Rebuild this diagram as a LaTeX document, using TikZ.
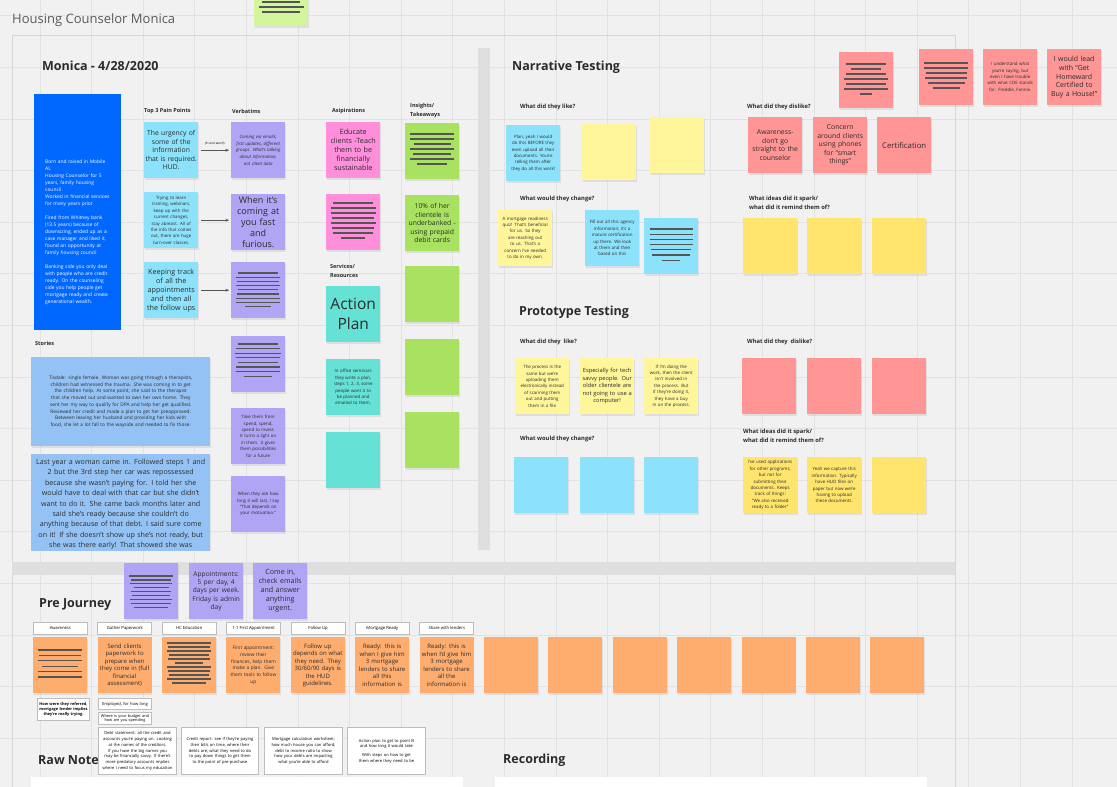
\documentclass[tikz,border=0pt]{standalone}
\usepackage{fontspec}
\setmainfont{Open Sans}
\usetikzlibrary{arrows.meta, positioning, calc, shadows}
\definecolor{boardcolor}{HTML}{F1F1F1}
\definecolor{gridcolor}{HTML}{E2E2E2}
\definecolor{framecolor}{HTML}{D6D6D6}
\definecolor{barcolor}{HTML}{DFDFDF}
\definecolor{inkcolor}{HTML}{2B2B2B}
\definecolor{titlecolor}{HTML}{5A5A5A}
\definecolor{scribcolor}{HTML}{555555}
\definecolor{biocolor}{HTML}{0067FF}
\definecolor{paincolor}{HTML}{8CE2FB}
\definecolor{verbcolor}{HTML}{B0A4F4}
\definecolor{aspirecolor}{HTML}{FF8EDB}
\definecolor{servicecolor}{HTML}{66E1D5}
\definecolor{insightcolor}{HTML}{A8E260}
\definecolor{limecolor}{HTML}{D3F59B}
\definecolor{storycolor}{HTML}{94C2F4}
\definecolor{palecolor}{HTML}{FFF59A}
\definecolor{goldcolor}{HTML}{FFE46D}
\definecolor{coralcolor}{HTML}{FF9595}
\definecolor{tangcolor}{HTML}{FFAD6E}
\definecolor{stagegray}{HTML}{BDBDBD}
\definecolor{arrowgray}{HTML}{555555}
\hyphenpenalty=10000
\exhyphenpenalty=10000
\tikzset{
  sticky/.style={anchor=north west, minimum width=54pt, minimum height=56pt,
    text width=53pt, inner sep=0pt, align=center, text=inkcolor,
    font=\fontsize{6.8}{8.5}\selectfont,
    drop shadow={opacity=0.16, shadow xshift=0.8pt, shadow yshift=-1.3pt}},
  tinynote/.style={text width=46pt, font=\fontsize{4.4}{6.4}\selectfont},
  colhead/.style={anchor=west, inner sep=0pt, align=left, text=inkcolor,
    font=\bfseries\fontsize{5.5}{8.5}\selectfont},
  askhead/.style={colhead, font=\bfseries\fontsize{5.8}{9}\selectfont},
  sechead/.style={anchor=west, inner sep=0pt, text=inkcolor,
    font=\bfseries\fontsize{12.5}{14}\selectfont},
  stagebox/.style={anchor=north west, draw=stagegray, fill=white, line width=0.8pt,
    minimum width=54pt, minimum height=12pt, inner sep=0pt,
    font=\fontsize{4.2}{5}\selectfont},
  notebox/.style={anchor=north west, draw=stagegray, fill=white, line width=1pt,
    inner sep=1pt, align=center, font=\fontsize{4.1}{5.7}\selectfont},
  scribline/.style={draw=scribcolor, line width=1.3pt},
  flowarrow/.style={-{Stealth[length=3.5pt,width=3pt]}, draw=arrowgray,
    line width=0.7pt, shorten <=3pt, shorten >=2pt},
  gridline/.style={draw=gridcolor, line width=0.8pt}
}
% placeholder lines on a sticky: node, first offset, spacing, widths
\newcommand{\scribble}[4]{%
  \foreach \w [count=\k] in {#4}
    \draw[scribline] ($(#1.north)+(-\w/2,#2+\k*#3-#3)$) -- ++(\w,0);}
\begin{document}
\begin{tikzpicture}[x=1pt, y=-1pt]
  \useasboundingbox (0,0) rectangle (1117,787);
  \clip (0,0) rectangle (1117,787);
  \fill[boardcolor] (0,0) rectangle (1117,787);
  \foreach \gx in {40,91.6,...,1117} \draw[gridline] (\gx,0) -- (\gx,787);
  \foreach \gy in {15.8,67.4,...,787} \draw[gridline] (0,\gy) -- (1117,\gy);
  % frame and dividers
  \draw[framecolor, line width=1pt] (12,800) -- (12,35) -- (955,35) -- (955,800);
  \fill[barcolor] (478,48) rectangle (490,550);
  \fill[barcolor] (12,562) rectangle (955,575);

  \node[sticky, fill=limecolor] (topnote) at (254,-30) {};
  \scribble{topnote}{32}{5}{38,45,38}
  \node[anchor=west, inner sep=0pt, text=titlecolor, font=\fontsize{13}{15}\selectfont]
    (boardtitle) at (12,20) {Housing Counselor Monica};
  \node[sechead] (monicahead) at (42,66) {Monica - 4/28/2020};

  % persona
  \node[anchor=north west, fill=biocolor, minimum width=87pt, minimum height=236pt,
        inner sep=0pt] (bio) at (34,94) {};
  \node[anchor=north west, text width=70pt, inner sep=0pt, align=left, text=white,
        font=\fontsize{4.9}{7}\selectfont] (biotext) at (45,160)
    {Born and raised in Mobile\\ AL\\ Housing Counselor for 5\\ years, family housing\\ council\\
     Worked in financial services\\ for many years prior\\[7pt]
     Fired from Whitney bank\\ (13.5 years) because of\\ downsizing, ended up as a\\
     case manager and liked it,\\ found an opportunity at\\ family housing council\\[7pt]
     Banking side you only deal\\ with people who are credit\\ ready. On the counseling\\
     side you help people get\\ mortgage ready and create\\ generational wealth.};

  % column heads
  \node[colhead] (painhead) at (144,111) {Top 3 Pain Points};
  \node[colhead] (verbhead) at (232,111) {Verbatims};
  \node[colhead] (aspirehead) at (332,111) {Asipirations};
  \node[colhead] (insighthead) at (410,110.5) {Insights/\\Takeaways};
  \node[colhead] (servicehead) at (330,271) {Services/\\Resources};
  \node[colhead] (storyhead) at (35,343) {Stories};

  % pain points
  \node[sticky, fill=paincolor] (pp1) at (144,122)
    {The urgency of\\ some of the\\ information\\ that is required.\\ HUD.};
  \node[sticky, tinynote, fill=paincolor] (pp2) at (144,192)
    {Trying to learn training, webinars, keep up with the current changes, stay abreast.
     All of the info that comes out, there are huge turn-over classes.};
  \node[sticky, fill=paincolor, font=\fontsize{7.2}{9}\selectfont] (pp3) at (144,262)
    {Keeping track\\ of all the\\ appointments\\ and then all\\ the follow ups};

  % verbatims
  \node[sticky, tinynote, fill=verbcolor, font=\itshape\fontsize{4.4}{6.6}\selectfont] (vb1) at (231,122)
    {Coming via emails, first updates, different groups. What's talking about information,
     not client data};
  \node[sticky, fill=verbcolor, font=\fontsize{9}{10.8}\selectfont] (vb2) at (231,194)
    {When it's\\ coming at\\ you fast and\\ furious.};
  \node[sticky, fill=verbcolor] (vb3) at (231,262) {};
  \scribble{vb3}{11}{4.2}{40,44,42,44,40,42,44,44,26}
  \node[sticky, fill=verbcolor] (vb4) at (231,336) {};
  \scribble{vb4}{8}{4.6}{40,44,46,44,40,44,44,28}
  \node[sticky, tinynote, fill=verbcolor] (vb5) at (231,408)
    {Take them from spend, spend, spend to invest. It turns a light on in them. It gives them
     possibilities for a future};
  \node[sticky, tinynote, fill=verbcolor] (vb6) at (231,476)
    {When they ask how long it will last, I say ``That depends on your motivation.''};

  \draw[flowarrow] (pp1.east) -- (vb1.west)
    node[midway, above=5pt, font=\fontsize{3.2}{4}\selectfont, inner sep=0pt] (arrowtag) {(in one word)};
  \draw[flowarrow] (pp2.east) -- (pp2.east -| vb2.west);
  \draw[flowarrow] (pp3.east) -- (pp3.east -| vb3.west);

  % aspirations, services, insights
  \node[sticky, fill=aspirecolor, font=\fontsize{7.2}{9}\selectfont] (as1) at (326,122)
    {Educate\\ clients -Teach\\ them to be\\ financially\\ sustainable};
  \node[sticky, fill=aspirecolor] (as2) at (326,194) {};
  \scribble{as2}{9}{5}{40,45,45,42,45,42,40,24}
  \node[sticky, fill=servicecolor, font=\fontsize{15.5}{20}\selectfont] (sv1) at (326,286)
    {Action\\ Plan};
  \node[sticky, tinynote, fill=servicecolor] (sv2) at (326,359)
    {In office seminars they write a plan, steps 1, 2, 3, some people want it to be planned
     and emailed to them.};
  \node[sticky, fill=servicecolor] (sv3) at (326,432) {};
  \node[sticky, fill=insightcolor] (in1) at (405,123) {};
  \scribble{in1}{11}{5}{44,44,37,44,38,44,30}
  \node[sticky, fill=insightcolor] (in2) at (405,195)
    {10\% of her\\ clientele is\\ underbanked -\\ using prepaid\\ debit cards};
  \foreach \ny [count=\n from 3] in {266,339,412}
    \node[sticky, fill=insightcolor] (in\n) at (405,\ny) {};

  % stories
  \node[sticky, fill=storycolor, minimum width=179pt, minimum height=89pt, text width=172pt,
        font=\fontsize{4.8}{6.7}\selectfont] (story1) at (31,357)
    {Tisdale: single female. Woman was going through a therapists, children had witnessed the
     trauma. She was coming in to get the children help. At some point, she said to the
     therapist that she moved out and wanted to own her own home. They sent her my way to
     qualify for DPA and help her get qualified.\\ Reviewed her credit and made a plan to get
     her preapproved. Between leaving her husband and providing her kids with food, she let a
     lot fall to the wayside and needed to fix those.};
  \begin{scope}
    \clip (25,450) rectangle (216,550);
    \node[sticky, fill=storycolor, minimum width=179pt, minimum height=100pt, text width=178pt,
          inner ysep=4pt, anchor=north west, font=\fontsize{7.1}{10.4}\selectfont] (story2) at (31,454)
      {Last year a woman came in. Followed steps 1 and\\ 2 but the 3rd step her car was repossessed\\
       because she wasn't paying for. I told her she\\ would have to deal with that car but she didn't\\
       want to do it. She came back months later and\\ said she's ready because she couldn't do\\
       anything because of that debt. I said sure come\\ on it! If she doesn't show up she's not ready, but\\
       she was there early! That showed she was};
  \end{scope}

  % narrative testing
  \node[sechead] (narrhead) at (512,67) {Narrative Testing};
  \node[askhead] (narrlike) at (520,107) {What did they like?};
  \node[sticky, tinynote, fill=paincolor] (nb1) at (506,125)
    {Plan, yeah I would do this BEFORE they even upload all their documents. You're telling
     them after they do all this work!};
  \node[sticky, fill=palecolor] (ny1) at (582,124) {};
  \node[sticky, fill=palecolor] (ny2) at (650,117) {};
  \node[askhead] (narrchange) at (520,199) {What would they change?};
  \node[sticky, tinynote, fill=palecolor] (ny3) at (498,210)
    {A mortgage readiness quiz! That's beneficial for us. So they are reaching out to us.
     That's a concern I've needed to do in my own.};
  \node[sticky, tinynote, fill=paincolor] (nb2) at (585,210)
    {Fill out all this agency information; it's a mature certification up there. We look at
     them and then based on this};
  \node[sticky, fill=paincolor] (nb3) at (644,218) {};
  \scribble{nb3}{11}{5.2}{43,43,43,43,40,38,18}
  \node[askhead] (narrdislike) at (747,107) {What did they dislike?};
  \node[sticky, fill=coralcolor] (nr1) at (748,117)
    {Awareness-\\ don't go\\ straight to the\\ counselor};
  \node[sticky, fill=coralcolor] (nr2) at (813,117)
    {Concern\\ around clients\\ using phones\\ for ``smart\\ things''};
  \node[sticky, fill=coralcolor, font=\fontsize{7.8}{9}\selectfont] (nr3) at (877,117)
    {Certification};
  \node[sticky, fill=coralcolor] (nr4) at (839,52) {};
  \scribble{nr4}{12}{5}{40,30,40,44,40,44,12}
  \node[sticky, fill=coralcolor] (nr5) at (919,49) {};
  \scribble{nr5}{14}{5}{44,44,41,42,37,27}
  \node[sticky, tinynote, fill=coralcolor] (nr6) at (983,49)
    {I understand what you're saying, but even I have trouble with what CDE stands for.
     Freddie, Fannie.};
  \node[sticky, fill=coralcolor, font=\fontsize{7}{8.9}\selectfont] (nr7) at (1047,49)
    {I would lead\\ with ``Get\\ Homeward\\ Certified to\\ Buy a House!''};
  \node[askhead] (narrspark) at (749,202.5) {What ideas did it spark/\\what did it remind them of?};
  \foreach \nx [count=\n] in {743,807,872}
    \node[sticky, fill=goldcolor] (ng\n) at (\nx,218) {};

  % prototype testing
  \node[sechead] (protohead) at (519,312) {Prototype Testing};
  \node[askhead] (protolike) at (520,342) {What did they\ \ like?};
  \node[sticky, tinynote, fill=palecolor] (py1) at (515,358)
    {The process is the same but we're uploading them electronically instead of scanning
     them out and putting them in a file};
  \node[sticky, fill=palecolor, font=\fontsize{5.7}{7.5}\selectfont] (py2) at (580,358)
    {Especially for tech\\ savvy people. Our\\ older clientele are\\ not going to use a\\ computer!};
  \node[sticky, tinynote, fill=palecolor] (py3) at (644,358)
    {If I'm doing the work, then the client isn't involved in the process. But if they're
     doing it, they have a buy in on the process.};
  \node[askhead] (protodislike) at (747,342) {What did they\ \ dislike?};
  \foreach \nx [count=\n] in {742,807,872}
    \node[sticky, fill=coralcolor] (pr\n) at (\nx,358) {};
  \node[askhead] (protochange) at (520,439) {What would they change?};
  \foreach \nx [count=\n] in {514,580,644}
    \node[sticky, fill=paincolor] (pb\n) at (\nx,457) {};
  \node[askhead] (protospark) at (743,435.5) {What ideas did it spark/\\what did it remind them of?};
  \node[sticky, tinynote, fill=goldcolor] (pg1) at (743,457)
    {I've used applications for other programs, but not for submitting their documents.
     Keeps track of things: ``We also received ready to a folder''};
  \node[sticky, tinynote, fill=goldcolor] (pg2) at (807,457)
    {Yeah we capture this information. Typically have HUD files on paper but now we're
     having to upload these documents.};
  \node[sticky, fill=goldcolor] (pg3) at (872,457) {};

  % pre journey
  \node[sticky, fill=verbcolor] (jv1) at (124,563) {};
  \scribble{jv1}{13}{3.9}{44,40,42,35,40,38,42,40,34}
  \node[sticky, fill=verbcolor, font=\fontsize{6.6}{8.3}\selectfont] (jv2) at (189,563)
    {Appointments:\\ 5 per day, 4\\ days per week.\\ Friday is admin\\ day};
  \node[sticky, fill=verbcolor, font=\fontsize{7.1}{9}\selectfont] (jv3) at (253,563)
    {Come in,\\ check emails\\ and answer\\ anything\\ urgent.};
  \node[sechead] (journeyhead) at (39,605) {Pre Journey};
  \foreach \lbl [count=\i from 0] in {Awareness, Gather Paperwork, HC Education,
      1-1 First Appointment, Follow Up, Mortgage Ready, Share with lenders}
    \node[stagebox] (stage\i) at (33+64.4*\i,622) {\lbl};
  \node[sticky, fill=tangcolor] (o0) at (33,637) {};
  \scribble{o0}{13}{5.4}{44,42,44,36,44,44}
  \node[sticky, fill=tangcolor, font=\fontsize{6}{7.5}\selectfont] (o1) at (97.4,637)
    {Send clients\\ paperwork to\\ prepare when\\ they come in (full\\ financial\\ assessment)};
  \node[sticky, fill=tangcolor] (o2) at (161.8,637) {};
  \scribble{o2}{6}{4}{44,42,44,40,42,28,44,42,40,44,34}
  \node[sticky, fill=tangcolor, font=\fontsize{4.8}{6.7}\selectfont] (o3) at (226.2,637)
    {First appointment:\\ review their\\ finances, help them\\ make a plan. Give\\ them tools to follow\\ up};
  \node[sticky, fill=tangcolor, font=\fontsize{6}{7.5}\selectfont] (o4) at (290.6,637)
    {Follow up\\ depends on what\\ they need. They\\ 30/60/90 days is\\ the HUD\\ guidelines.};
  \node[sticky, fill=tangcolor, font=\fontsize{6}{7.5}\selectfont] (o5) at (355,637)
    {Ready: this is\\ when I give him\\ 3 mortgage\\ lenders to share\\ all this\\ information is};
  \node[sticky, fill=tangcolor, font=\fontsize{6}{7.5}\selectfont] (o6) at (419.4,637)
    {Ready: this is\\ when I'd give him\\ 3 mortgage\\ lenders to share\\ all the\\ information is};
  \foreach \i in {7,...,13}
    \node[sticky, fill=tangcolor] (o\i) at (33+64.4*\i,637) {};

  \node[sechead] (rawhead) at (38,760) {Raw Notes};
  \node[sechead] (rechead) at (503,760) {Recording};
  \node[notebox, minimum width=52pt, minimum height=22pt, text width=50pt,
        font=\bfseries\fontsize{3.9}{5.2}\selectfont] (w1) at (37,698)
    {How were they referred,\\ mortgage lender implies\\ they're really trying.};
  \node[notebox, minimum width=53pt, minimum height=11pt, text width=51pt] (w2) at (98,698)
    {Employed, for how long};
  \node[notebox, minimum width=53pt, minimum height=12pt, text width=51pt,
        font=\fontsize{3.9}{4.8}\selectfont] (w3) at (98,712)
    {Where is your budget and\\ how are you spending};
  \node[notebox, minimum width=78pt, minimum height=47pt, text width=74pt] (w4) at (98,727)
    {Debt statement: all the credit and accounts you're paying on. Looking at the names of the
     creditors. If you have the big names you may be financially savvy. If there's more
     predatory accounts implies where I need to focus my education};
  \node[notebox, minimum width=77pt, minimum height=47pt, text width=74pt] (w5) at (181,727)
    {Credit report: see if they're paying their bills on time, where their debts are, what
     they need to do to pay down things to get them to the point of pre-purchase};
  \node[notebox, minimum width=78pt, minimum height=47pt, text width=74pt] (w6) at (264,727)
    {Mortgage calculation worksheet: how much house you can afford, debt to income ratio to
     show how your debts are impacting what you're able to afford};
  \node[notebox, minimum width=78pt, minimum height=47pt, text width=74pt] (w7) at (347,727)
    {Action plan to get to point B and how long it would take\\[3pt] With steps on how to get
     them where they need to be};
  \fill[white] (31,777) rectangle (463,800);
  \fill[white] (495,777) rectangle (927,800);
\end{tikzpicture}
\end{document}
